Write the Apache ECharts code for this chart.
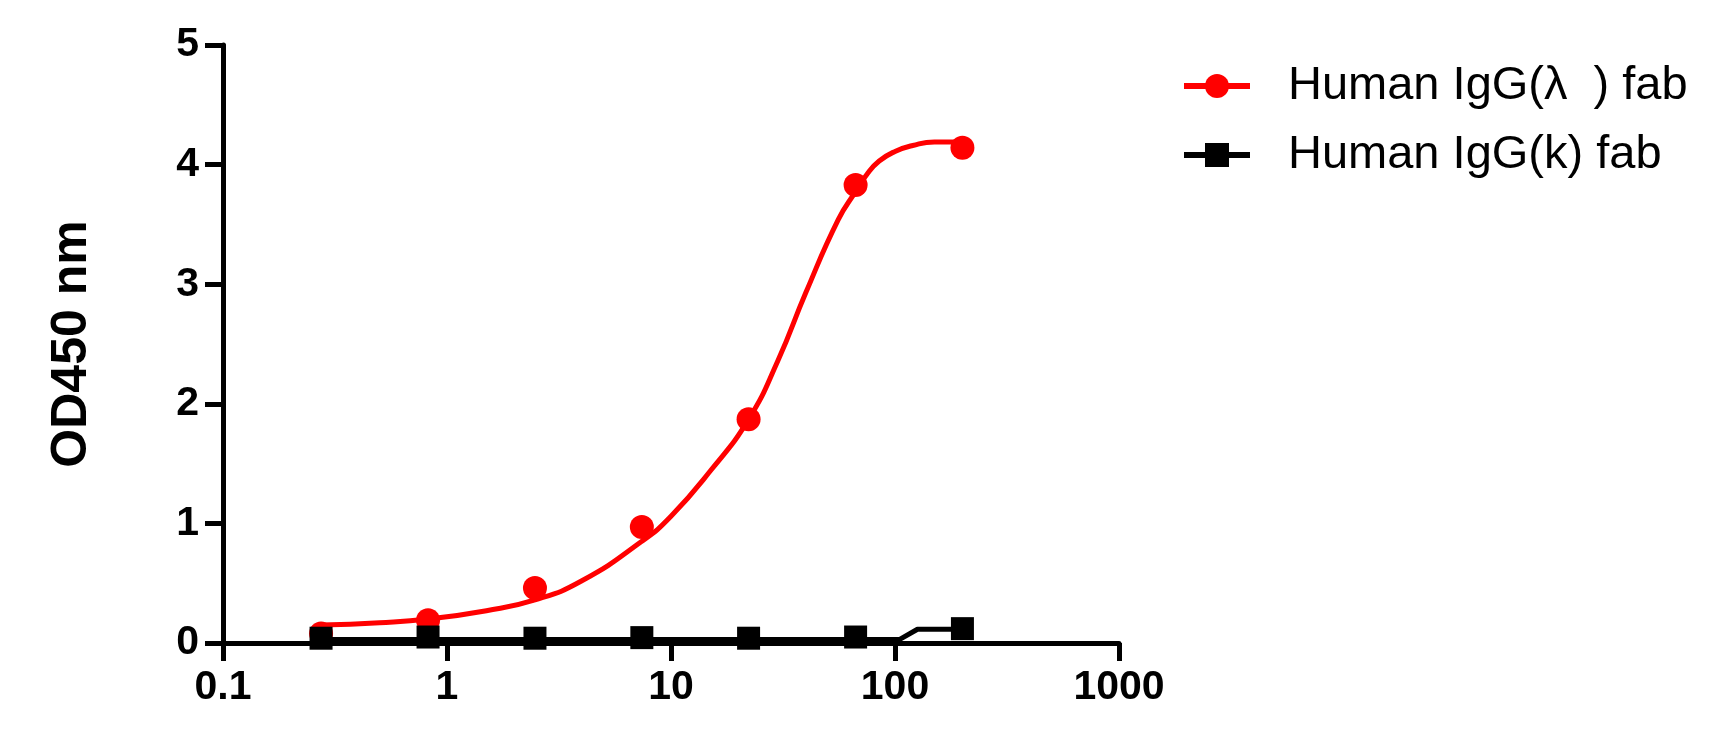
<!DOCTYPE html>
<html><head><meta charset="utf-8">
<script src="https://cdn.jsdelivr.net/npm/echarts@6/dist/echarts.min.js"></script>
<style>html,body{margin:0;padding:0;background:#fff}#c{width:1715px;height:730px}</style>
</head><body><div id="c"></div>
<script>
// Concentrations (3-fold dilution series)
const concentrations = [0.274, 0.823, 2.47, 7.41, 22.2, 66.7, 200];
const lambdaOD = [0.08, 0.19, 0.46, 0.97, 1.87, 3.83, 4.14];
const kappaOD = [0.04, 0.05, 0.04, 0.045, 0.04, 0.05, 0.12];
// Fitted curves
const lambdaFitX = [0.274, 0.5, 0.823, 1.5, 2.47, 4, 7.41, 10, 15, 22.2, 30, 40, 55.8, 67, 75, 85, 100, 120, 150, 200];
const lambdaFitY = [0.15, 0.17, 0.20, 0.27, 0.36, 0.52, 0.85, 1.06, 1.44, 1.87, 2.36, 2.93, 3.54, 3.78, 3.92, 4.03, 4.11, 4.16, 4.19, 4.19];
const kappaFitX = [0.274, 105, 126, 200];
const kappaFitY = [0.03, 0.03, 0.115, 0.115];
const xTicks = [0.1, 1, 10, 100, 1000];
const yTicks = [0, 1, 2, 3, 4, 5];
const seriesNames = ['Human IgG(λ  ) fab', 'Human IgG(k) fab'];
const yTitle = 'OD450 nm';

const zip = (xs, ys) => xs.map((x, i) => [x, ys[i]]);
const FONT = '"Liberation Sans", Arial, sans-serif';

const chart = echarts.init(document.getElementById('c'), null, {renderer: 'canvas'});
chart.setOption({
  animation: false,
  backgroundColor: '#fff',
  grid: {left: 223, right: 596, top: 45, bottom: 87, containLabel: false},
  legend: {
    orient: 'vertical', left: 1181, top: 61, itemGap: 19, padding: 0,
    itemWidth: 66, itemHeight: 30,
    data: seriesNames,
    lineStyle: {width: 6},
    textStyle: {fontFamily: FONT, fontSize: 47, color: '#000', lineHeight: 50, padding: [0, 0, 0, 33]}
  },
  xAxis: {
    type: 'log', logBase: 10, min: xTicks[0], max: xTicks[xTicks.length - 1],
    axisLine: {onZero: false, lineStyle: {color: '#000', width: 5}},
    axisTick: {show: true, length: 18, lineStyle: {color: '#000', width: 5}},
    axisLabel: {fontFamily: FONT, fontSize: 41, fontWeight: 'bold', color: '#000', margin: 24,
      formatter: v => String(v)},
    splitLine: {show: false}, minorTick: {show: false}
  },
  yAxis: {
    type: 'value', min: yTicks[0], max: yTicks[yTicks.length - 1], interval: 1,
    name: yTitle, nameLocation: 'middle', nameGap: 126, nameRotate: 90,
    nameTextStyle: {fontFamily: FONT, fontSize: 50, fontWeight: 'bold', color: '#000'},
    axisLine: {show: true, lineStyle: {color: '#000', width: 5}},
    axisTick: {show: true, length: 18, lineStyle: {color: '#000', width: 5}},
    axisLabel: {fontFamily: FONT, fontSize: 41, fontWeight: 'bold', color: '#000', margin: 24},
    splitLine: {show: false}
  },
  series: [
    {name: seriesNames[0], type: 'line', data: zip(lambdaFitX, lambdaFitY), smooth: 0.5,
      symbol: 'circle', showSymbol: false, symbolSize: 24,
      lineStyle: {color: '#ff0000', width: 5}, itemStyle: {color: '#ff0000', opacity: 1}, z: 2},
    {name: seriesNames[0], type: 'scatter', data: zip(concentrations, lambdaOD),
      symbol: 'circle', symbolSize: 24, itemStyle: {color: '#ff0000', opacity: 1}, z: 3},
    {name: seriesNames[1], type: 'line', data: zip(kappaFitX, kappaFitY),
      symbol: 'rect', showSymbol: false, symbolSize: 24,
      lineStyle: {color: '#000', width: 5}, itemStyle: {color: '#000', opacity: 1}, z: 4},
    {name: seriesNames[1], type: 'scatter', data: zip(concentrations, kappaOD),
      symbol: 'rect', symbolSize: 23, itemStyle: {color: '#000', opacity: 1}, z: 5}
  ]
});
</script></body></html>
